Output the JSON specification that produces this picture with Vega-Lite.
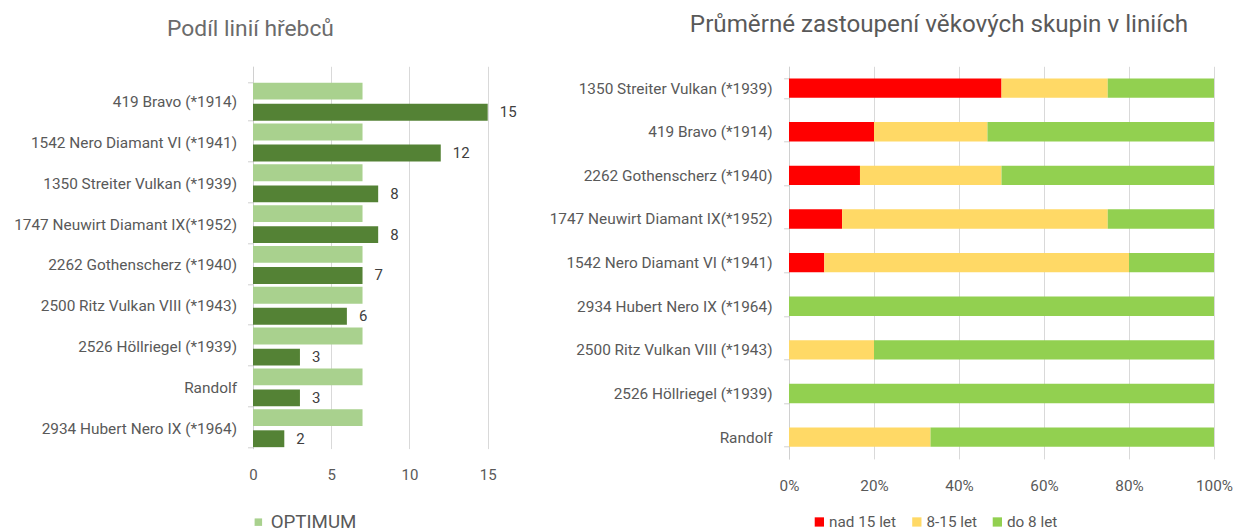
{
  "$schema": "https://vega.github.io/schema/vega-lite/v6.json",
  "padding": {"top": 12.3, "left": 0, "right": 0, "bottom": 0},
  "background": "white",
  "spacing": 29,
  "resolve": {"scale": {"color": "independent"}, "legend": {"color": "independent"}},
  "config": {
    "font": "Roboto, sans-serif",
    "view": {"stroke": null},
    "axis": {"labelColor": "#595959", "gridColor": "#D9D9D9", "domainColor": "#D0D0D0", "tickColor": "#D0D0D0", "labelFont": "Roboto, sans-serif", "labelLimit": 0, "labelFlush": false, "labelOverlap": false},
    "legend": {"labelColor": "#595959", "labelFont": "Roboto, sans-serif", "symbolType": "square", "symbolStrokeWidth": 0, "labelLimit": 0},
    "title": {"font": "Roboto, sans-serif", "fontWeight": "normal", "anchor": "middle", "frame": "group"}
  },
  "hconcat": [
    {
      "title": {"text": "Podíl linií hřebců", "fontSize": 22.8, "color": "#6b6b6b", "dx": -135.5, "offset": 18.9},
      "width": 266,
      "height": 382.3,
      "data": {"values": [
        {"line": "419 Bravo (*1914)", "series": "OPTIMUM", "value": 7},
        {"line": "419 Bravo (*1914)", "series": "SKUTEČNOST", "value": 15},
        {"line": "1542 Nero Diamant VI (*1941)", "series": "OPTIMUM", "value": 7},
        {"line": "1542 Nero Diamant VI (*1941)", "series": "SKUTEČNOST", "value": 12},
        {"line": "1350 Streiter Vulkan (*1939)", "series": "OPTIMUM", "value": 7},
        {"line": "1350 Streiter Vulkan (*1939)", "series": "SKUTEČNOST", "value": 8},
        {"line": "1747 Neuwirt Diamant IX(*1952)", "series": "OPTIMUM", "value": 7},
        {"line": "1747 Neuwirt Diamant IX(*1952)", "series": "SKUTEČNOST", "value": 8},
        {"line": "2262 Gothenscherz (*1940)", "series": "OPTIMUM", "value": 7},
        {"line": "2262 Gothenscherz (*1940)", "series": "SKUTEČNOST", "value": 7},
        {"line": "2500 Ritz Vulkan VIII (*1943)", "series": "OPTIMUM", "value": 7},
        {"line": "2500 Ritz Vulkan VIII (*1943)", "series": "SKUTEČNOST", "value": 6},
        {"line": "2526 Höllriegel (*1939)", "series": "OPTIMUM", "value": 7},
        {"line": "2526 Höllriegel (*1939)", "series": "SKUTEČNOST", "value": 3},
        {"line": "Randolf", "series": "OPTIMUM", "value": 7},
        {"line": "Randolf", "series": "SKUTEČNOST", "value": 3},
        {"line": "2934 Hubert Nero IX (*1964)", "series": "OPTIMUM", "value": 7},
        {"line": "2934 Hubert Nero IX (*1964)", "series": "SKUTEČNOST", "value": 2}
      ]},
      "encoding": {
        "y": {
          "field": "line", "type": "nominal",
          "sort": ["419 Bravo (*1914)", "1542 Nero Diamant VI (*1941)", "1350 Streiter Vulkan (*1939)", "1747 Neuwirt Diamant IX(*1952)", "2262 Gothenscherz (*1940)", "2500 Ritz Vulkan VIII (*1943)", "2526 Höllriegel (*1939)", "Randolf", "2934 Hubert Nero IX (*1964)"],
          "scale": {"paddingInner": 0.07, "paddingOuter": 0.2187, "align": 0.92},
          "axis": {"title": null, "labelFontSize": 15.4, "tickSize": 5.5, "labelPadding": 11, "tickBand": "extent", "minExtent": 253, "maxExtent": 253, "grid": false}
        },
        "yOffset": {"field": "series", "type": "nominal", "sort": ["OPTIMUM", "SKUTEČNOST"], "scale": {"paddingInner": 0.2, "paddingOuter": 0}},
        "x": {
          "field": "value", "type": "quantitative",
          "scale": {"domain": [0, 17], "nice": false},
          "axis": {"title": null, "values": [0, 5, 10, 15], "grid": true, "domain": false, "ticks": false, "labelFontSize": 15, "labelPadding": 19}
        }
      },
      "layer": [
        {
          "mark": {"type": "bar"},
          "encoding": {
            "color": {
              "field": "series", "type": "nominal",
              "scale": {"domain": ["OPTIMUM", "SKUTEČNOST"], "range": ["#A9D18E", "#548235"]},
              "legend": {"values": ["OPTIMUM"], "title": null, "orient": "none", "legendX": -4, "legendY": 446.5, "labelFontSize": 18.7, "symbolSize": 56, "labelOffset": 3}
            }
          }
        },
        {
          "transform": [{"filter": "datum.series === 'SKUTEČNOST'"}],
          "mark": {"type": "text", "align": "left", "baseline": "middle", "dx": 12, "fontSize": 15, "color": "#404040"},
          "encoding": {"text": {"field": "value", "type": "quantitative"}}
        }
      ]
    },
    {
      "title": {"text": "Průměrné zastoupení věkových skupin v liniích", "fontSize": 24.2, "color": "#595959", "dx": -62.5, "offset": 21.9},
      "width": 425,
      "height": 392.6,
      "data": {"values": [
        {"line": "1350 Streiter Vulkan (*1939)", "group": "nad 15 let", "pct": 50},
        {"line": "1350 Streiter Vulkan (*1939)", "group": "8-15 let", "pct": 25},
        {"line": "1350 Streiter Vulkan (*1939)", "group": "do 8 let", "pct": 25},
        {"line": "419 Bravo (*1914)", "group": "nad 15 let", "pct": 20},
        {"line": "419 Bravo (*1914)", "group": "8-15 let", "pct": 26.7},
        {"line": "419 Bravo (*1914)", "group": "do 8 let", "pct": 53.3},
        {"line": "2262 Gothenscherz (*1940)", "group": "nad 15 let", "pct": 16.7},
        {"line": "2262 Gothenscherz (*1940)", "group": "8-15 let", "pct": 33.3},
        {"line": "2262 Gothenscherz (*1940)", "group": "do 8 let", "pct": 50},
        {"line": "1747 Neuwirt Diamant IX(*1952)", "group": "nad 15 let", "pct": 12.5},
        {"line": "1747 Neuwirt Diamant IX(*1952)", "group": "8-15 let", "pct": 62.5},
        {"line": "1747 Neuwirt Diamant IX(*1952)", "group": "do 8 let", "pct": 25},
        {"line": "1542 Nero Diamant VI (*1941)", "group": "nad 15 let", "pct": 8.3},
        {"line": "1542 Nero Diamant VI (*1941)", "group": "8-15 let", "pct": 71.7},
        {"line": "1542 Nero Diamant VI (*1941)", "group": "do 8 let", "pct": 20},
        {"line": "2934 Hubert Nero IX (*1964)", "group": "do 8 let", "pct": 100},
        {"line": "2500 Ritz Vulkan VIII (*1943)", "group": "8-15 let", "pct": 20},
        {"line": "2500 Ritz Vulkan VIII (*1943)", "group": "do 8 let", "pct": 80},
        {"line": "2526 Höllriegel (*1939)", "group": "do 8 let", "pct": 100},
        {"line": "Randolf", "group": "8-15 let", "pct": 33.3},
        {"line": "Randolf", "group": "do 8 let", "pct": 66.7}
      ]},
      "transform": [{"window": [{"op": "row_number", "as": "stackorder"}], "groupby": ["line"]}],
      "mark": {"type": "bar"},
      "encoding": {
        "y": {
          "field": "line", "type": "nominal",
          "sort": ["1350 Streiter Vulkan (*1939)", "419 Bravo (*1914)", "2262 Gothenscherz (*1940)", "1747 Neuwirt Diamant IX(*1952)", "1542 Nero Diamant VI (*1941)", "2934 Hubert Nero IX (*1964)", "2500 Ritz Vulkan VIII (*1943)", "2526 Höllriegel (*1939)", "Randolf"],
          "scale": {"paddingInner": 0.555},
          "axis": {"title": null, "labelFontSize": 15.4, "tickSize": 5.4, "labelPadding": 11.6, "tickBand": "extent", "minExtent": 240, "maxExtent": 240, "grid": false}
        },
        "x": {
          "field": "pct", "type": "quantitative", "stack": "normalize",
          "scale": {"domain": [0, 1], "nice": false},
          "axis": {"title": null, "format": ".0%", "values": [0, 0.2, 0.4, 0.6, 0.8, 1], "grid": true, "domain": false, "ticks": false, "labelFontSize": 15.3, "labelPadding": 19.5}
        },
        "order": {"field": "stackorder", "type": "quantitative", "sort": "ascending"},
        "color": {
          "field": "group", "type": "nominal",
          "sort": ["nad 15 let", "8-15 let", "do 8 let"],
          "scale": {"domain": ["nad 15 let", "8-15 let", "do 8 let"], "range": ["#FF0000", "#FFD966", "#92D050"]},
          "legend": {"title": null, "orient": "none", "direction": "horizontal", "legendX": 22.7, "legendY": 448, "labelFontSize": 15.3, "symbolSize": 86, "labelOffset": 2, "columnPadding": 12.5}
        }
      }
    }
  ]
}
